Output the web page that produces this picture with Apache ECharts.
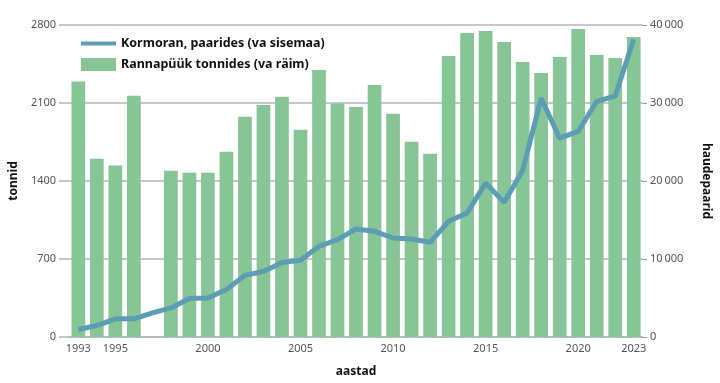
<!DOCTYPE html>
<html><head><meta charset="utf-8">
<script src="https://cdn.jsdelivr.net/npm/echarts@6/dist/echarts.min.js"></script>
<style>html,body{margin:0;padding:0;background:#fff}#c{width:720px;height:383px}</style>
</head><body><div id="c"></div>
<script>
const years = ['1993','1994','1995','1996','1997','1998','1999','2000','2001','2002','2003','2004','2005','2006','2007','2008','2009','2010','2011','2012','2013','2014','2015','2016','2017','2018','2019','2020','2021','2022','2023'];
const shownYears = ['1993','1995','2000','2005','2010','2015','2020','2023'];
const catchTonnes = [2292,1599,1540,2164,null,1492,1474,1474,1662,1976,2083,2155,1859,2397,2095,2065,2262,2003,1752,1644,2522,2728,2746,2648,2468,2370,2513,2764,2531,2504,2692];
const cormorantPairs = [960,1470,2330,2330,3090,3730,4930,5010,6080,7900,8400,9550,9850,11620,12480,13850,13550,12690,12560,12140,14830,15890,19730,17260,21350,30610,25490,26350,30190,30910,38170];
const leftTicks = [0,700,1400,2100,2800];
const rightTicks = [0,10000,20000,30000,40000];
const lineName = 'Kormoran, paarides (va sisemaa)';
const barName = 'Rannapüük tonnides (va räim)';

const FONT = '"Noto Sans", "Open Sans", sans-serif';
const chart = echarts.init(document.getElementById('c'), null, {renderer:'canvas'});
const labelStyle = {color:'#555', fontSize:11, fontFamily:FONT};
const nameStyle = {color:'#111', fontSize:12, fontWeight:'bold', fontFamily:FONT};
chart.setOption({
  animation:false,
  grid:{left:58, right:76.5, top:25, bottom:45.5, containLabel:false},
  legend:[
    {data:[{name:lineName, icon:'rect'}], left:76, top:32, itemWidth:35, itemHeight:4, itemGap:5,
     textStyle:{color:'#111', fontSize:12.5, fontWeight:'bold', fontFamily:FONT}},
    {data:[{name:barName, icon:'rect'}], left:76, top:53, itemWidth:35, itemHeight:13, itemGap:5,
     textStyle:{color:'#111', fontSize:12.5, fontWeight:'bold', fontFamily:FONT}}
  ],
  xAxis:{type:'category', data:years,
    name:'aastad', nameLocation:'middle', nameGap:29, nameTextStyle:nameStyle,
    axisLine:{show:true, lineStyle:{color:'#b5b5b5', width:1.5}},
    axisTick:{show:false},
    axisLabel:Object.assign({interval:0, margin:6, formatter:v=>shownYears.includes(v)?v:''}, labelStyle)
  },
  yAxis:[
    {type:'value', min:leftTicks[0], max:leftTicks[leftTicks.length-1], interval:700,
     name:'tonnid', nameLocation:'middle', nameGap:42, nameRotate:90, nameTextStyle:nameStyle,
     axisLine:{show:false}, axisTick:{show:true, length:10, lineStyle:{color:'#b5b5b5', width:1.5}},
     splitLine:{lineStyle:{color:'#b5b5b5', width:1.5}},
     axisLabel:Object.assign({margin:13, formatter:v=>String(v)}, labelStyle)},
    {type:'value', min:rightTicks[0], max:rightTicks[rightTicks.length-1], interval:10000, position:'right',
     name:'haudepaarid', nameLocation:'middle', nameGap:57, nameRotate:-90, nameTextStyle:nameStyle,
     axisLine:{show:false}, axisTick:{show:true, length:4, lineStyle:{color:'#999', width:1}},
     splitLine:{show:false},
     axisLabel:Object.assign({margin:7, formatter:v=>v>=1000?String(v).replace(/(\d)(?=(\d{3})+$)/,'$1\u2009'):String(v)}, labelStyle)}
  ],
  series:[
    {name:barName, type:'bar', yAxisIndex:0, data:catchTonnes, barCategoryGap:'26%',
     itemStyle:{color:'#87c597'}, z:1},
    {name:lineName, type:'line', yAxisIndex:1, data:cormorantPairs, showSymbol:false, symbol:'none',
     lineStyle:{color:'#5b9db2', width:5}, itemStyle:{color:'#5b9db2'}, z:3}
  ]
});
</script></body></html>
